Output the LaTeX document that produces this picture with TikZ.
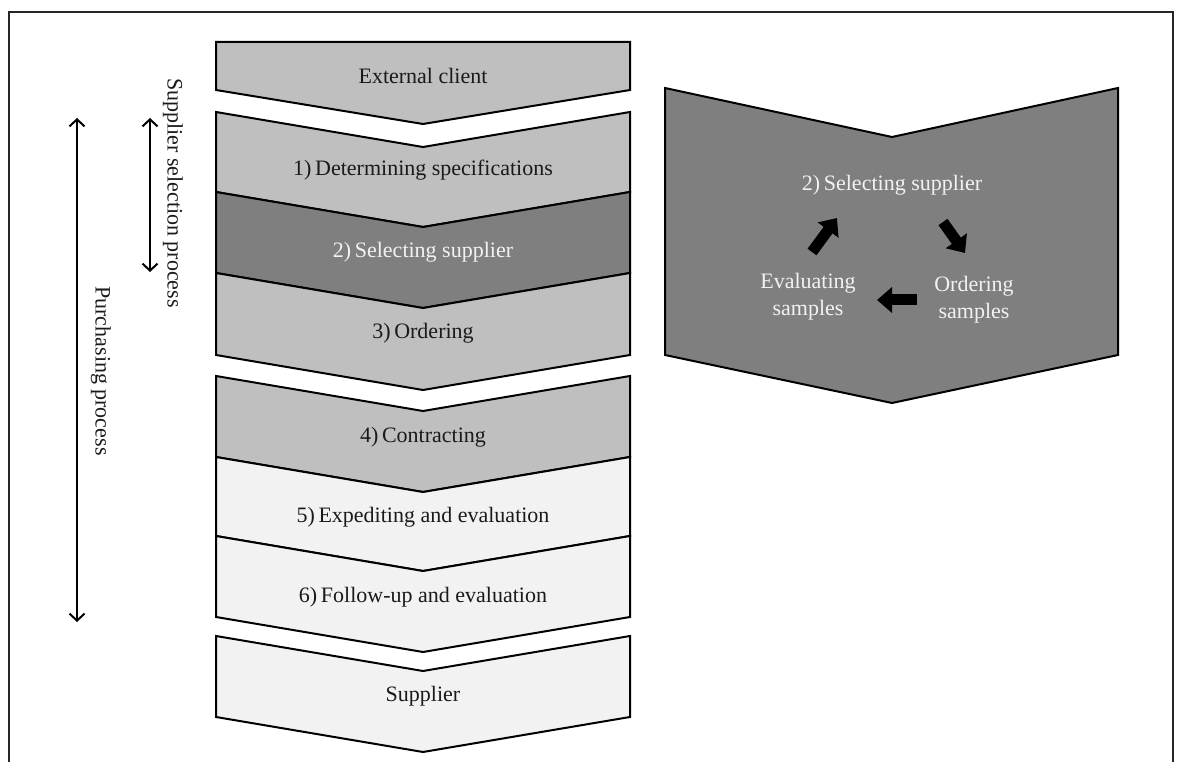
\documentclass[tikz,border=0pt]{standalone}
\usepackage{fontspec}
\setmainfont{Liberation Serif}
\usetikzlibrary{arrows.meta}
\definecolor{lightgr}{HTML}{BFBFBF}
\definecolor{darkgr}{HTML}{7F7F7F}
\definecolor{palegr}{HTML}{F2F2F2}
\definecolor{inkc}{HTML}{1A1A1A}
\tikzset{
  chevbox/.style={draw=black, line width=2pt, line join=miter},
  lbl/.style={font=\fontsize{22}{27}\selectfont, text=inkc, align=center, inner sep=0pt},
  wlbl/.style={lbl, text=palegr},
  vlbl/.style={lbl, rotate=-90},
  spanarrow/.style={draw=black, line width=2pt, {Straight Barb[length=7pt,width=15pt]}-{Straight Barb[length=7pt,width=15pt]}},
  blockarrow/.style={draw=black, line width=11pt, -{Triangle[length=15pt,width=25pt]}},
}
\newcommand\chev[3]{\filldraw[chevbox,fill=#3] (216,#1) -- (423,#1+35) -- (630,#1) -- (630,#2) -- (423,#2+35) -- (216,#2) -- cycle;}
\begin{document}
\begin{tikzpicture}[x=1pt,y=-1pt]
\useasboundingbox (0,0) rectangle (1179,762);
% frame
\draw[line width=1.5pt, draw=black!85] (9,770) -- (9,12) -- (1173,12) -- (1173,770);

% left column of chevrons
\filldraw[chevbox,fill=lightgr] (216,42) -- (630,42) -- (630,90) -- (423,124) -- (216,90) -- cycle;
\chev{112}{192}{lightgr}
\chev{192}{273}{darkgr}
\chev{273}{355}{lightgr}
\chev{376}{457}{lightgr}
\chev{457}{536}{palegr}
\chev{536}{617}{palegr}
\chev{636}{717}{palegr}

\node[lbl]  (client)   at (423,76)  {External client};
\node[lbl]  (spec)     at (423,170) {1)\,Determining specifications};
\node[wlbl] (select)   at (423,252) {2)\,Selecting supplier};
\node[lbl]  (order)    at (423,333) {3)\,Ordering};
\node[lbl]  (contract) at (423,437) {4)\,Contracting};
\node[lbl]  (expedite) at (423,517) {5)\,Expediting and evaluation};
\node[lbl]  (follow)   at (423,597) {6)\,Follow-up and evaluation};
\node[lbl]  (supplier) at (423,696) {Supplier};

% spans
\coordinate (pTop) at (77,118);
\coordinate (pBot) at (77,622);
\coordinate (sTop) at (150,118);
\coordinate (sBot) at (150,272);
\draw[spanarrow] (pTop) -- (pBot);
\draw[spanarrow] (sTop) -- (sBot);
\node[vlbl] (purch) at (101,371) {Purchasing process};
\node[vlbl] (supsel) at (173,193) {Supplier selection process};

% right panel
\filldraw[chevbox,fill=darkgr] (665,88) -- (892,137) -- (1118,88) -- (1118,355) -- (892,403) -- (665,355) -- cycle;
\node[wlbl] (rsel)  at (892,185) {2)\,Selecting supplier};
\node[wlbl] (reval) at (808,297) {Evaluating\\samples};
\node[wlbl] (rord)  at (974,300) {Ordering\\samples};

\coordinate (a1s) at (812,252);
\coordinate (a1e) at (837,218);
\coordinate (a2s) at (943,222);
\coordinate (a2e) at (965,253);
\coordinate (a3s) at (917,300);
\coordinate (a3e) at (877,300);
\draw[blockarrow] (a1s) -- (a1e);
\draw[blockarrow] (a2s) -- (a2e);
\draw[blockarrow] (a3s) -- (a3e);
\end{tikzpicture}
\end{document}
